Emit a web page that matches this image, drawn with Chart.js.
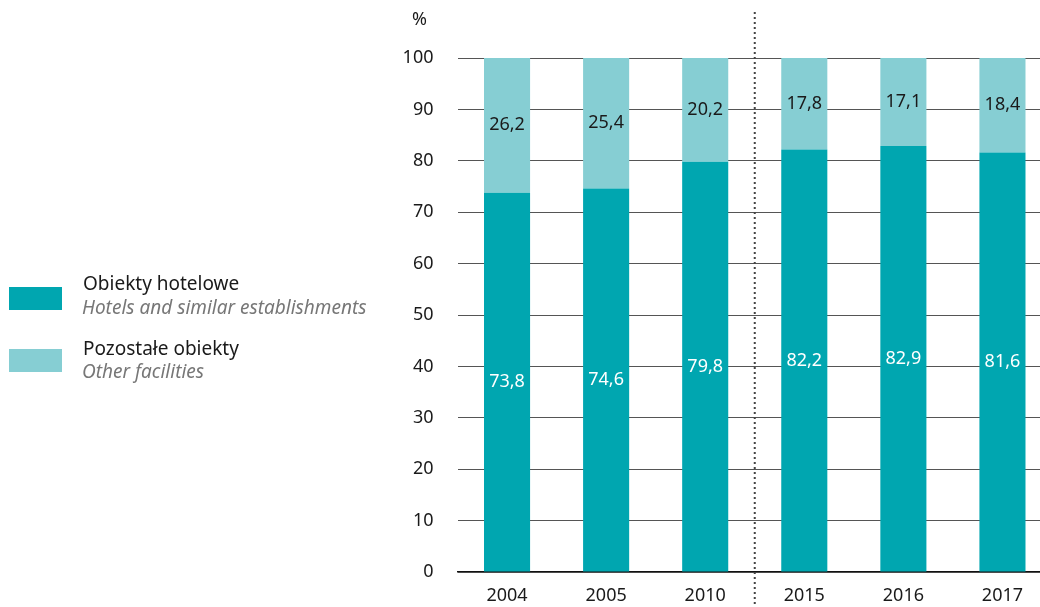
<!DOCTYPE html>
<html>
<head>
<meta charset="utf-8">
<script src="https://cdn.jsdelivr.net/npm/chart.js@4"></script>
<style>
  html, body { margin: 0; padding: 0; width: 1040px; height: 607px; overflow: hidden; background: #fff; font-family: 'Noto Sans', sans-serif; }
  #wrap { position: absolute; left: 0; top: 0; width: 1052px; height: 607px; }
  .legend { position: absolute; left: 9px; color: #1a1a1a; }
  .legend .sw { position: absolute; left: 0; width: 53px; height: 23px; }
  .legend .pl { position: absolute; left: 74px; font-size: 19px; white-space: nowrap; line-height: 22px; }
  .legend .en { position: absolute; left: 73px; font-size: 19px; font-style: italic; color: #777; white-space: nowrap; line-height: 22px; }
  #unit { position: absolute; left: 412px; top: 6px; font-size: 18px; color: #1a1a1a; }
</style>
</head>
<body>
<div id="wrap"><canvas id="shareChart" width="1052" height="607"></canvas></div>
<div id="unit">%</div>
<div class="legend" style="top:287px">
  <div class="sw" style="background:#00A6B0"></div>
  <div class="pl" style="top:-15px">Obiekty hotelowe</div>
  <div class="en" style="top:9px">Hotels and similar establishments</div>
</div>
<div class="legend" style="top:349px">
  <div class="sw" style="background:#86CED3"></div>
  <div class="pl" style="top:-12px">Pozostałe obiekty</div>
  <div class="en" style="top:11px">Other facilities</div>
</div>
<script>
const years = ['2004', '2005', '2010', '2015', '2016', '2017'];
const hotels = [73.8, 74.6, 79.8, 82.2, 82.9, 81.6];
const others = [26.2, 25.4, 20.2, 17.8, 17.1, 18.4];
const yTicks = [0, 10, 20, 30, 40, 50, 60, 70, 80, 90, 100];

const darkTeal = '#00A6B0';
const lightTeal = '#86CED3';
const fontFamily = "'Noto Sans', sans-serif";

// value labels inside the bar segments
const barLabels = {
    id: 'barLabels',
    afterDatasetsDraw(chart) {
        const ctx = chart.ctx;
        ctx.save();
        ctx.font = '18px ' + fontFamily;
        ctx.textAlign = 'center';
        ctx.textBaseline = 'middle';
        chart.data.datasets.forEach((ds, di) => {
            chart.getDatasetMeta(di).data.forEach((bar, i) => {
                const mid = (bar.y + bar.base) / 2;
                ctx.fillStyle = di === 0 ? '#ffffff' : '#1a1a1a';
                ctx.fillText(String(ds.data[i]).replace('.', ','), bar.x, mid);
            });
        });
        ctx.restore();
    }
};

// dotted separator between 2010 and 2015
const separator = {
    id: 'separator',
    afterDraw(chart) {
        const x = chart.scales.x;
        const px = (x.getPixelForValue(2) + x.getPixelForValue(3)) / 2;
        const ctx = chart.ctx;
        ctx.save();
        ctx.strokeStyle = '#444';
        ctx.lineWidth = 2;
        ctx.setLineDash([2, 3]);
        ctx.beginPath();
        ctx.moveTo(px, 12);
        ctx.lineTo(px, chart.height);
        ctx.stroke();
        ctx.restore();
    }
};

const ctx = document.getElementById('shareChart').getContext('2d');
const shareChart = new Chart(ctx, {
    type: 'bar',
    data: {
        labels: years,
        datasets: [{
            label: 'Obiekty hotelowe',
            data: hotels,
            backgroundColor: darkTeal,
            borderWidth: 0,
            barPercentage: 0.465,
            categoryPercentage: 1
        }, {
            label: 'Pozostałe obiekty',
            data: others,
            backgroundColor: lightTeal,
            borderWidth: 0,
            barPercentage: 0.465,
            categoryPercentage: 1
        }]
    },
    options: {
        responsive: false,
        animation: false,
        layout: { padding: { left: 0, right: 0, top: 58, bottom: 0 } },
        plugins: {
            legend: { display: false },
            tooltip: { enabled: false }
        },
        scales: {
            x: {
                stacked: true,
                grid: { display: false },
                border: { display: true, color: '#111', width: 1.6 },
                ticks: {
                    color: '#1a1a1a',
                    font: { family: fontFamily, size: 18 },
                    padding: 5
                },
                afterFit(scale) { scale.height = 33; }
            },
            y: {
                stacked: true,
                min: 0,
                max: 100,
                afterBuildTicks(scale) { scale.ticks = yTicks.map(v => ({ value: v })); },
                border: { display: false },
                grid: {
                    color: ctx => ctx.tick.value === 0 ? '#111' : '#555',
                    lineWidth: ctx => ctx.tick.value === 0 ? 1.6 : 1,
                    drawTicks: false
                },
                ticks: {
                    color: '#1a1a1a',
                    font: { family: fontFamily, size: 18 },
                    padding: 24
                },
                afterFit(scale) { scale.width = 457.5; }
            }
        }
    },
    plugins: [barLabels, separator]
});
</script>
</body>
</html>
